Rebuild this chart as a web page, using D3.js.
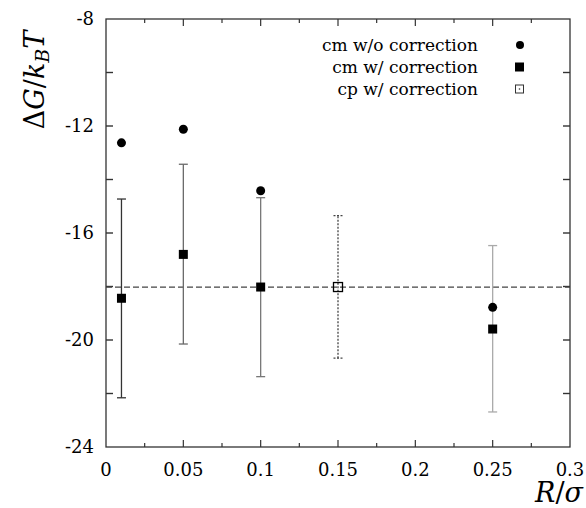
<!DOCTYPE html>
<html>
<head>
<meta charset="utf-8">
<script src="https://cdn.jsdelivr.net/npm/d3@7"></script>
<style>
  body { margin: 0; background: #fff; }
  svg text { font-family: 'DejaVu Serif', 'Liberation Serif', 'Noto Serif', serif; fill: #000; }
</style>
</head>
<body>
<svg id="chart" width="586" height="508"></svg>
<script>
// cm w/o correction (filled circles)
const cmNoCorr = [
  { x: 0.01, y: -12.63 },
  { x: 0.05, y: -12.12 },
  { x: 0.10, y: -14.42 },
  { x: 0.25, y: -18.78 },
];
// cm w/ correction (filled squares with error bars)
const cmCorr = [
  { x: 0.01, y: -18.44, lo: -22.16, hi: -14.73, color: "#333" },
  { x: 0.05, y: -16.80, lo: -20.15, hi: -13.43, color: "#6a6a6a" },
  { x: 0.10, y: -18.02, lo: -21.37, hi: -14.68, color: "#777" },
  { x: 0.25, y: -19.59, lo: -22.69, hi: -16.47, color: "#aaa" },
];
// cp w/ correction (open square, dotted error bar)
const cpCorr = [
  { x: 0.15, y: -18.02, lo: -20.68, hi: -15.35 },
];
const refLine = -18.02;
const xTicks = [0, 0.05, 0.1, 0.15, 0.2, 0.25, 0.3];
const yTicks = [-24, -20, -16, -12, -8];
const legendLabels = [ "cm w/o correction", "cm w/ correction", "cp w/ correction" ];

const svg = d3.select( "#chart" );
const M = { top: 19, right: 16, bottom: 61, left: 106 };
const W = 586, H = 508;

const x = d3.scaleLinear().domain( [ 0, 0.3 ] ).range( [ M.left, W - M.right ] );
const y = d3.scaleLinear().domain( [ -24, -8 ] ).range( [ H - M.bottom, M.top ] );

// frame
svg.append( "rect" )
  .attr( "x", x( 0 ) ).attr( "y", y( -8 ) )
  .attr( "width", x( 0.3 ) - x( 0 ) ).attr( "height", y( -24 ) - y( -8 ) )
  .attr( "fill", "none" ).attr( "stroke", "#333" ).attr( "stroke-width", 1.3 );

// ticks (inward) on all four sides
const xMinor = d3.range( 0.025, 0.3, 0.05 );
const yMinor = d3.range( -22, -8, 4 );
const tick = ( x1, y1, x2, y2, w ) => svg.append( "line" )
  .attr( "x1", x1 ).attr( "y1", y1 ).attr( "x2", x2 ).attr( "y2", y2 )
  .attr( "stroke", "#333" ).attr( "stroke-width", w );

xTicks.slice( 1, -1 ).forEach( v => {
  tick( x( v ), y( -24 ), x( v ), y( -24 ) - 7, 1.2 );
  tick( x( v ), y( -8 ), x( v ), y( -8 ) + 7, 1.2 );
} );
xMinor.forEach( v => {
  tick( x( v ), y( -24 ), x( v ), y( -24 ) - 4, 1.2 );
  tick( x( v ), y( -8 ), x( v ), y( -8 ) + 4, 1.2 );
} );
yTicks.slice( 1, -1 ).concat( yMinor ).forEach( v => {
  tick( x( 0 ), y( v ), x( 0 ) + 7, y( v ), 1.4 );
  tick( x( 0.3 ), y( v ), x( 0.3 ) - 7, y( v ), 1.4 );
} );

// tick labels
svg.append( "g" ).selectAll( "text" ).data( xTicks ).enter().append( "text" )
  .attr( "x", d => x( d ) ).attr( "y", y( -24 ) + 29 )
  .attr( "text-anchor", "middle" ).attr( "font-size", 18 )
  .text( d => d );
svg.append( "g" ).selectAll( "text" ).data( yTicks ).enter().append( "text" )
  .attr( "x", x( 0 ) - 12 ).attr( "y", d => y( d ) + 6 )
  .attr( "text-anchor", "end" ).attr( "font-size", 18 )
  .text( d => d );

// axis titles
const yl = svg.append( "text" )
  .attr( "transform", `translate(44,${ y( -12 ) - 46 }) rotate(-90)` )
  .attr( "text-anchor", "middle" ).attr( "font-size", 27 );
yl.append( "tspan" ).text( "Δ" );
yl.append( "tspan" ).attr( "font-style", "italic" ).text( "G" );
yl.append( "tspan" ).text( "/" );
yl.append( "tspan" ).attr( "font-style", "italic" ).text( "k" );
yl.append( "tspan" ).attr( "font-style", "italic" ).attr( "font-size", 19 ).attr( "dy", 5 ).text( "B" );
yl.append( "tspan" ).attr( "font-style", "italic" ).attr( "dy", -5 ).text( "T" );

const xl = svg.append( "text" )
  .attr( "x", 583 ).attr( "y", 502 )
  .attr( "text-anchor", "end" ).attr( "font-size", 27 );
xl.append( "tspan" ).attr( "font-style", "italic" ).text( "R" );
xl.append( "tspan" ).text( "/" );
xl.append( "tspan" ).attr( "font-style", "italic" ).text( "σ" );

// reference dashed line
svg.append( "line" )
  .attr( "x1", x( 0 ) ).attr( "x2", x( 0.3 ) )
  .attr( "y1", y( refLine ) ).attr( "y2", y( refLine ) )
  .attr( "stroke", "#444" ).attr( "stroke-width", 1.3 ).attr( "stroke-dasharray", "6,3" );

// error bars
const errorBar = ( d, color, dash ) => {
  const g = svg.append( "g" ).attr( "stroke", color ).attr( "stroke-width", 1.3 );
  if ( dash ) g.attr( "stroke-dasharray", dash );
  g.append( "line" ).attr( "x1", x( d.x ) ).attr( "x2", x( d.x ) ).attr( "y1", y( d.lo ) ).attr( "y2", y( d.hi ) );
  [ d.lo, d.hi ].forEach( v => g.append( "line" )
    .attr( "x1", x( d.x ) - 4.5 ).attr( "x2", x( d.x ) + 4.5 )
    .attr( "y1", y( v ) ).attr( "y2", y( v ) ) );
};
cmCorr.forEach( d => errorBar( d, d.color, null ) );
cpCorr.forEach( d => errorBar( d, "#444", "2,1.5" ) );

// markers
svg.append( "g" ).selectAll( "circle" ).data( cmNoCorr ).enter().append( "circle" )
  .attr( "cx", d => x( d.x ) ).attr( "cy", d => y( d.y ) ).attr( "r", 4.5 ).attr( "fill", "#000" );
svg.append( "g" ).selectAll( "rect" ).data( cmCorr ).enter().append( "rect" )
  .attr( "x", d => x( d.x ) - 4.5 ).attr( "y", d => y( d.y ) - 4.5 )
  .attr( "width", 9 ).attr( "height", 9 ).attr( "fill", "#000" );
svg.append( "g" ).selectAll( "rect" ).data( cpCorr ).enter().append( "rect" )
  .attr( "x", d => x( d.x ) - 4.5 ).attr( "y", d => y( d.y ) - 4.5 )
  .attr( "width", 9 ).attr( "height", 9 ).attr( "fill", "none" )
  .attr( "stroke", "#000" ).attr( "stroke-width", 1.3 );

// legend
const lg = svg.append( "g" );
const rowY = [ 45, 67, 89 ];
legendLabels.forEach( ( t, i ) => {
  lg.append( "text" ).attr( "x", 478 ).attr( "y", rowY[i] + 6 )
    .attr( "text-anchor", "end" ).attr( "font-size", 17 ).text( t );
} );
lg.append( "circle" ).attr( "cx", 520 ).attr( "cy", rowY[0] ).attr( "r", 4 ).attr( "fill", "#000" );
lg.append( "rect" ).attr( "x", 515 ).attr( "y", rowY[1] - 4.5 ).attr( "width", 9 ).attr( "height", 9 ).attr( "fill", "#000" );
lg.append( "rect" ).attr( "x", 515.5 ).attr( "y", rowY[2] - 4 ).attr( "width", 8 ).attr( "height", 8 )
  .attr( "fill", "none" ).attr( "stroke", "#333" ).attr( "stroke-width", 1 );
lg.append( "circle" ).attr( "cx", 519.5 ).attr( "cy", rowY[2] ).attr( "r", 0.8 ).attr( "fill", "#333" );
</script>
</body>
</html>
